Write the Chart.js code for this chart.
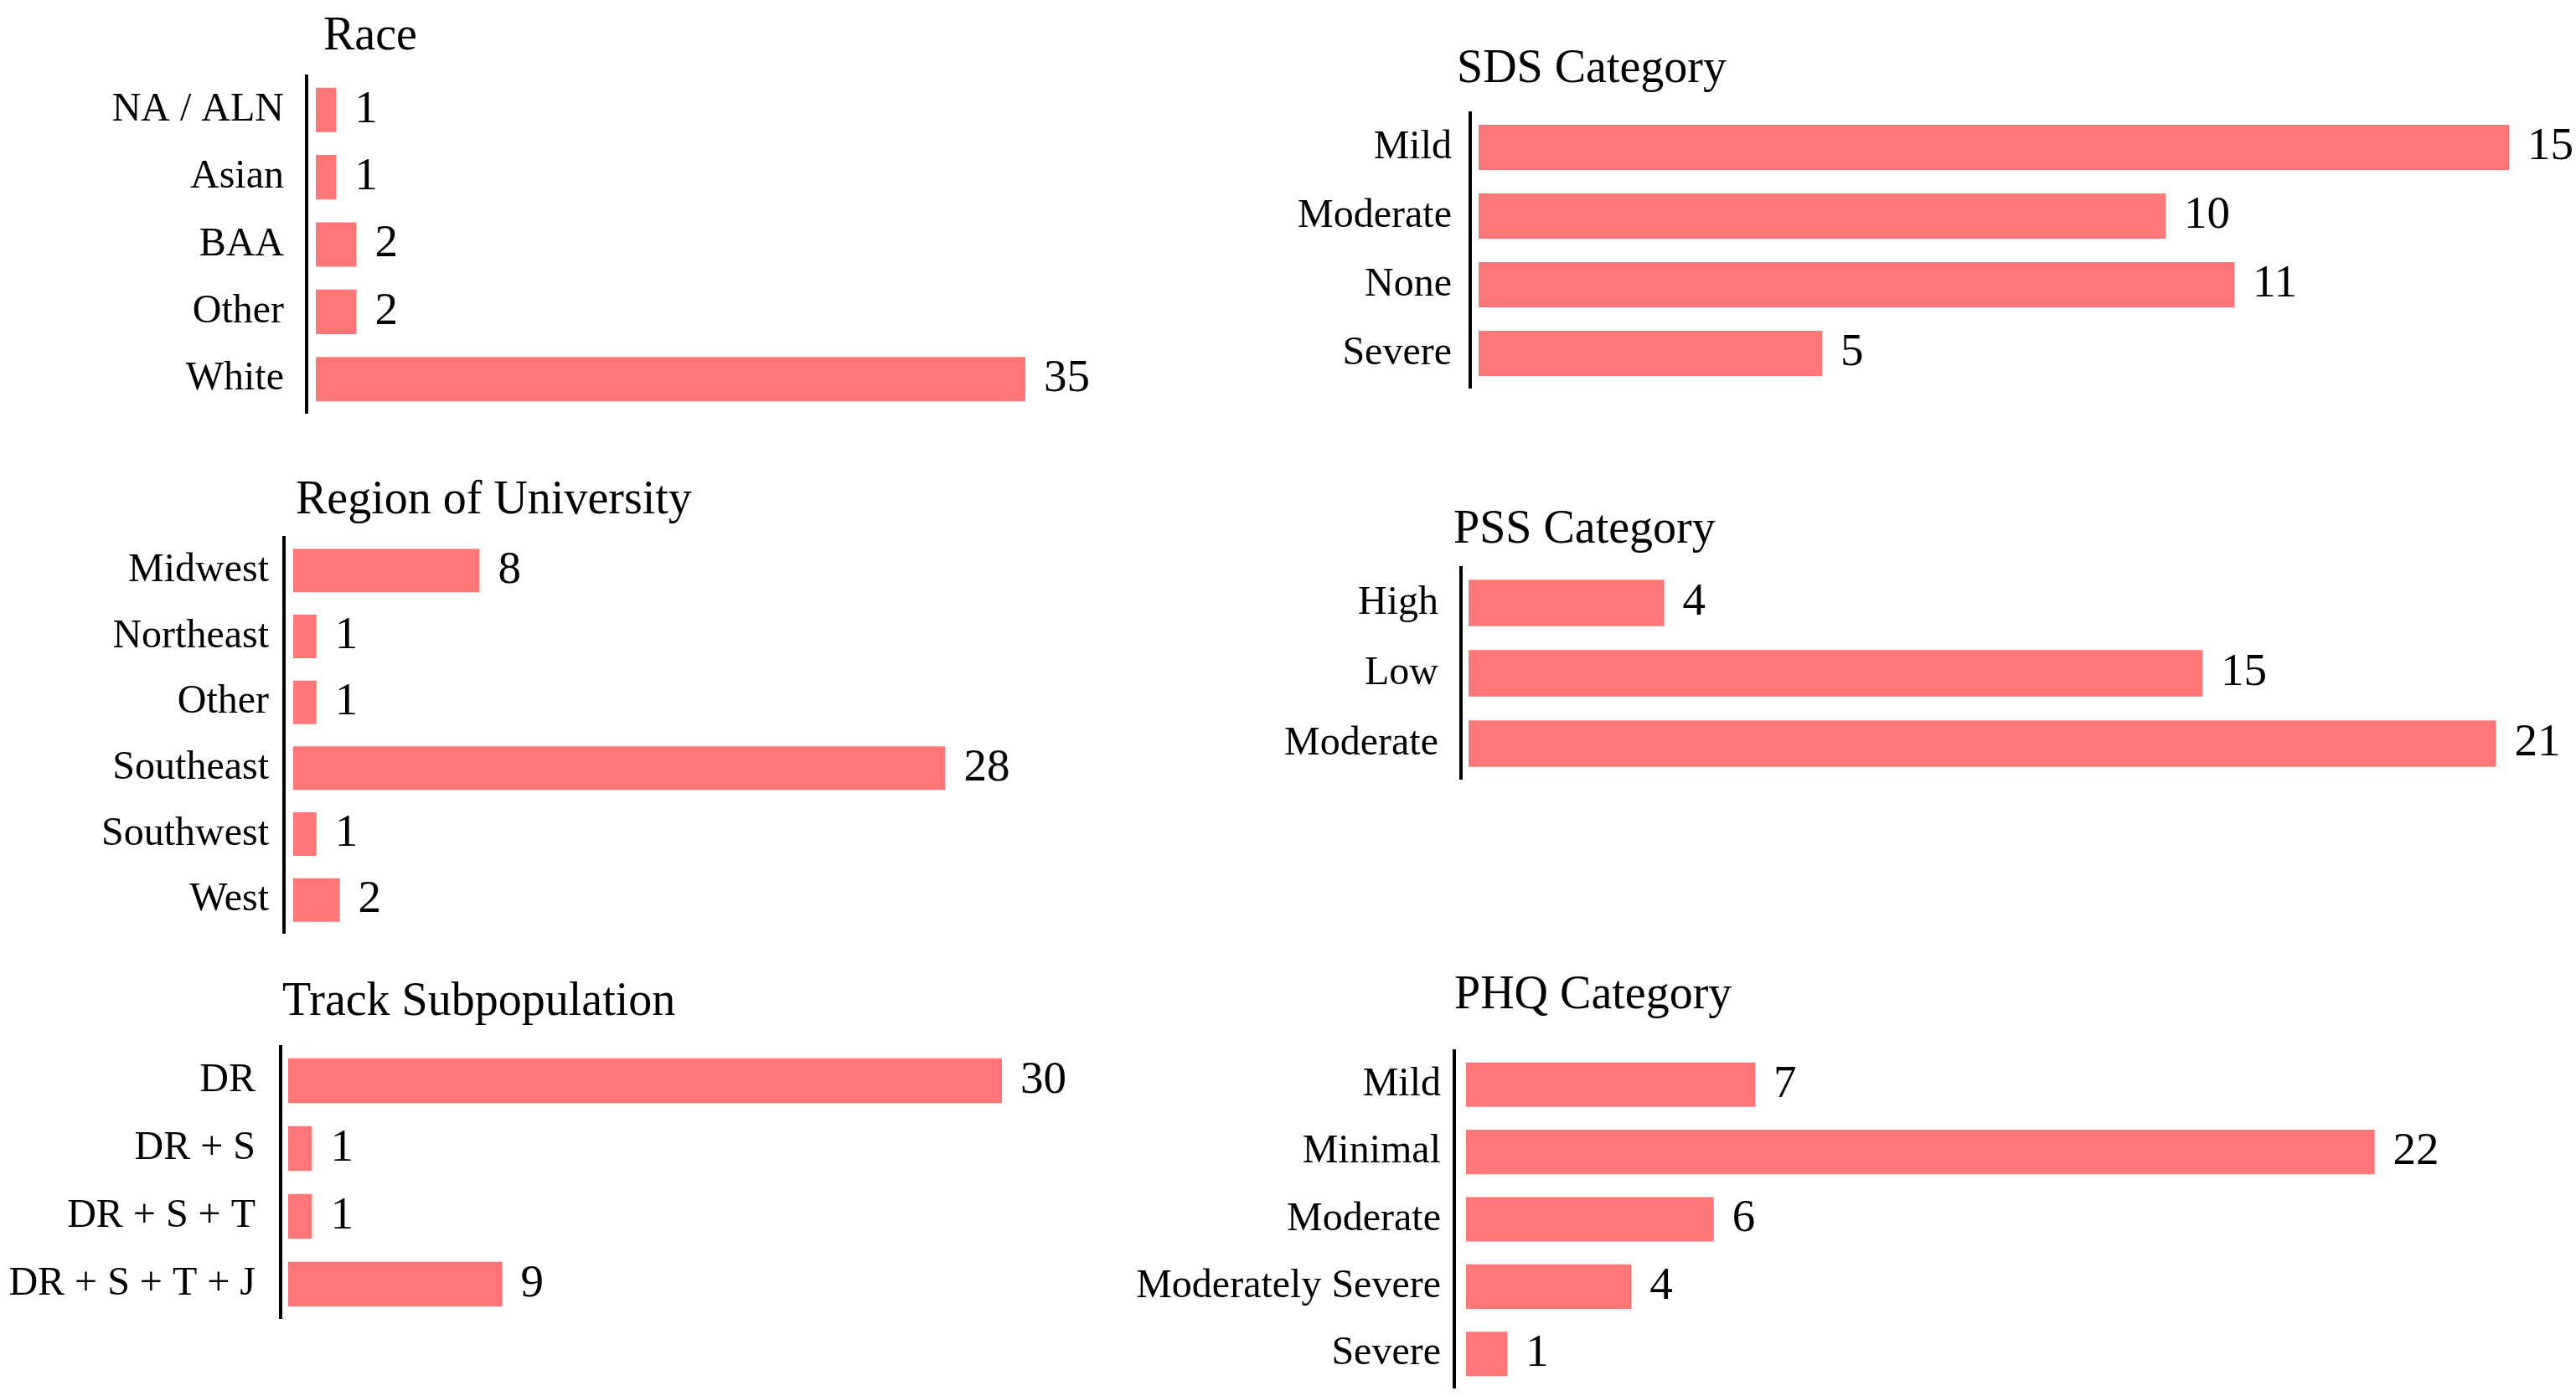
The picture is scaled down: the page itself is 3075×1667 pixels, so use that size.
<!DOCTYPE html>
<html>
<head>
<meta charset="utf-8">
<script src="https://cdn.jsdelivr.net/npm/chart.js@4.4.1/dist/chart.umd.min.js"></script>
<style>
html, body { margin: 0; padding: 0; background: #ffffff; overflow: hidden; width: 3075px; height: 1667px; }
canvas { position: absolute; top: 0; }
</style>
</head>
<body>
<canvas id="race"></canvas>
<canvas id="region"></canvas>
<canvas id="track"></canvas>
<canvas id="sds"></canvas>
<canvas id="pss"></canvas>
<canvas id="phq"></canvas>
<script>
// ---------------- DATA ----------------
const raceLabels = ['NA / ALN', 'Asian', 'BAA', 'Other', 'White'];
const raceValues = [1, 1, 2, 2, 35];

const regionLabels = ['Midwest', 'Northeast', 'Other', 'Southeast', 'Southwest', 'West'];
const regionValues = [8, 1, 1, 28, 1, 2];

const trackLabels = ['DR', 'DR + S', 'DR + S + T', 'DR + S + T + J'];
const trackValues = [30, 1, 1, 9];

const sdsLabels = ['Mild', 'Moderate', 'None', 'Severe'];
const sdsValues = [15, 10, 11, 5];

const pssLabels = ['High', 'Low', 'Moderate'];
const pssValues = [4, 15, 21];

const phqLabels = ['Mild', 'Minimal', 'Moderate', 'Moderately Severe', 'Severe'];
const phqValues = [7, 22, 6, 4, 1];

const panelTitles = {
  race: 'Race',
  region: 'Region of University',
  track: 'Track Subpopulation',
  sds: 'SDS Category',
  pss: 'PSS Category',
  phq: 'PHQ Category'
};

// ---------------- STYLE / LAYOUT ----------------
const FONT = '"Liberation Serif", "Times New Roman", serif';
const BAR_COLOR = '#FF7676';
const TICK_SIZE = 48;
const VALUE_SIZE = 55;
const TITLE_SIZE = 56;
const VALUE_GAP = 22;
const CANVAS_H = 1800;

const columns = {
  L: { left: 0, width: 1400 },
  R: { left: 1300, width: 1775 }
};

const layoutCfg = {
  race:   { col: 'L', axisX: 366,  top: 91,   bottom: 493,  ppu: 24.2, gap: 11, titleX: 386,  titleY: 59,   tickPad: 27 },
  region: { col: 'L', axisX: 339,  top: 642,  bottom: 1114, ppu: 27.8, gap: 11, titleX: 353,  titleY: 613,  tickPad: 18 },
  track:  { col: 'L', axisX: 335,  top: 1250, bottom: 1574, ppu: 28.4, gap: 9,  titleX: 337,  titleY: 1212, tickPad: 30 },
  sds:    { col: 'R', axisX: 1755, top: 135,  bottom: 463,  ppu: 82.0, gap: 10, titleX: 1739, titleY: 98,   tickPad: 22 },
  pss:    { col: 'R', axisX: 1744, top: 678,  bottom: 930,  ppu: 58.4, gap: 9,  titleX: 1735, titleY: 648,  tickPad: 27 },
  phq:    { col: 'R', axisX: 1736, top: 1255, bottom: 1657, ppu: 49.3, gap: 14, titleX: 1736, titleY: 1204, tickPad: 16 }
};

const panelData = {
  race:   [raceLabels, raceValues],
  region: [regionLabels, regionValues],
  track:  [trackLabels, trackValues],
  sds:    [sdsLabels, sdsValues],
  pss:    [pssLabels, pssValues],
  phq:    [phqLabels, phqValues]
};

Chart.defaults.font.family = FONT;
Chart.defaults.color = '#000000';

const valuePlugin = {
  id: 'valueLabels',
  afterDatasetsDraw(chart) {
    const ctx = chart.ctx;
    const meta = chart.getDatasetMeta(0);
    const ds = chart.data.datasets[0];
    ctx.save();
    ctx.font = VALUE_SIZE + 'px ' + FONT;
    ctx.fillStyle = '#000000';
    ctx.textAlign = 'left';
    ctx.textBaseline = 'middle';
    meta.data.forEach((bar, i) => {
      ctx.fillText(String(ds.data[i]), bar.x + VALUE_GAP, bar.y);
    });
    ctx.restore();
  }
};

const titlePlugin = {
  id: 'panelTitle',
  afterDraw(chart, args, opts) {
    const ctx = chart.ctx;
    ctx.save();
    ctx.font = TITLE_SIZE + 'px ' + FONT;
    ctx.fillStyle = '#000000';
    ctx.textAlign = 'left';
    ctx.textBaseline = 'alphabetic';
    ctx.fillText(opts.text, opts.x, opts.y);
    ctx.restore();
  }
};

Object.keys(layoutCfg).forEach(key => {
  const L = layoutCfg[key];
  const col = columns[L.col];
  const [labels, values] = panelData[key];
  const canvas = document.getElementById(key);
  canvas.width = col.width;
  canvas.height = CANVAS_H;
  canvas.style.left = col.left + 'px';
  canvas.style.width = col.width + 'px';
  canvas.style.height = CANVAS_H + 'px';

  const axisW = L.axisX - col.left;
  const areaW = col.width - axisW;
  const xmin = -L.gap / L.ppu;
  const xmax = xmin + areaW / L.ppu;

  new Chart(canvas, {
    type: 'bar',
    data: {
      labels: labels,
      datasets: [{
        data: values,
        backgroundColor: BAR_COLOR,
        borderWidth: 0,
        barPercentage: 0.66,
        categoryPercentage: 1.0
      }]
    },
    options: {
      indexAxis: 'y',
      responsive: false,
      animation: false,
      devicePixelRatio: 1,
      layout: { padding: { top: L.top, bottom: CANVAS_H - L.bottom, left: 0, right: 0 } },
      plugins: {
        legend: { display: false },
        tooltip: { enabled: false },
        title: { display: false },
        panelTitle: { text: panelTitles[key], x: L.titleX - col.left, y: L.titleY }
      },
      scales: {
        x: { display: false, min: xmin, max: xmax },
        y: {
          position: 'left',
          grid: { display: false, drawTicks: false },
          border: { display: true, color: '#000000', width: 4 },
          ticks: { color: '#000000', font: { family: FONT, size: TICK_SIZE }, padding: L.tickPad, autoSkip: false },
          afterFit: (scale) => { scale.width = axisW; }
        }
      }
    },
    plugins: [valuePlugin, titlePlugin]
  });
});
</script>
</body>
</html>
